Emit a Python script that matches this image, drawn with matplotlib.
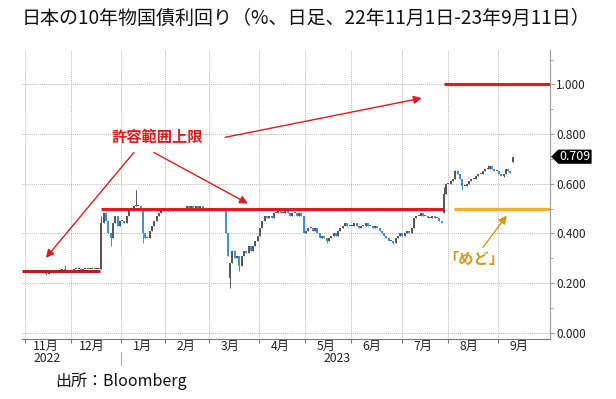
import numpy as np
import matplotlib
matplotlib.use("Agg")
import matplotlib.pyplot as plt
import matplotlib.transforms as mtransforms
from matplotlib.patches import Polygon
from matplotlib.ticker import MultipleLocator, FormatStrFormatter

plt.rcParams['font.family'] = ['Noto Sans CJK JP', 'DejaVu Sans']

# === DATA: JGB 10y daily close (%), trading days per month ===
month_labels = ['11月', '12月', '1月', '2月', '3月', '4月', '5月', '6月', '7月', '8月', '9月']
month_days = [20, 22, 19, 19, 22, 20, 20, 22, 20, 22, 7]

yld_nov = [0.250, 0.245, 0.250, 0.245, 0.245, 0.245, 0.245, 0.240, 0.240, 0.235,
           0.240, 0.240, 0.245, 0.245, 0.245, 0.250, 0.255, 0.250, 0.250, 0.250]
yld_dec = [0.250, 0.255, 0.255, 0.255, 0.250, 0.255, 0.255, 0.255, 0.255, 0.255,
           0.255, 0.255, 0.255, 0.440, 0.480, 0.450, 0.400, 0.380, 0.440, 0.470,
           0.430, 0.450]
yld_jan = [0.450, 0.440, 0.470, 0.500, 0.500, 0.510, 0.510, 0.510, 0.500, 0.400,
           0.380, 0.380, 0.410, 0.430, 0.450, 0.470, 0.480, 0.490, 0.490]
yld_feb = [0.490, 0.500, 0.490, 0.500, 0.500, 0.500, 0.500, 0.500, 0.500, 0.510,
           0.500, 0.510, 0.500, 0.510, 0.500, 0.510, 0.500, 0.500, 0.500]
yld_mar = [0.500, 0.500, 0.500, 0.500, 0.500, 0.500, 0.500, 0.400, 0.310, 0.280,
           0.330, 0.300, 0.310, 0.270, 0.310, 0.330, 0.320, 0.350, 0.330, 0.350,
           0.370, 0.390]
yld_apr = [0.420, 0.450, 0.470, 0.460, 0.470, 0.460, 0.480, 0.480, 0.490, 0.480,
           0.480, 0.490, 0.480, 0.470, 0.480, 0.480, 0.470, 0.480, 0.470, 0.400]
yld_may = [0.410, 0.420, 0.420, 0.410, 0.420, 0.400, 0.380, 0.390, 0.380, 0.370,
           0.380, 0.390, 0.400, 0.390, 0.410, 0.420, 0.430, 0.440, 0.430, 0.430]
yld_jun = [0.430, 0.440, 0.430, 0.420, 0.430, 0.430, 0.440, 0.430, 0.430, 0.420,
           0.430, 0.420, 0.410, 0.400, 0.390, 0.380, 0.370, 0.370, 0.360, 0.380,
           0.390, 0.400]
yld_jul = [0.390, 0.400, 0.410, 0.400, 0.420, 0.460, 0.470, 0.470, 0.480, 0.470,
           0.470, 0.460, 0.460, 0.470, 0.460, 0.460, 0.450, 0.440, 0.560, 0.600]
yld_aug = [0.600, 0.610, 0.620, 0.650, 0.640, 0.620, 0.590, 0.590, 0.600, 0.610,
           0.620, 0.620, 0.630, 0.640, 0.640, 0.650, 0.660, 0.660, 0.670, 0.660,
           0.650, 0.650]
yld_sep = [0.640, 0.630, 0.640, 0.660, 0.650, 0.645, 0.709]

# opens that gap away from the previous close, and intraday extremes
gap_idx = [89, 182, 212]
gap_open = [0.220, 0.480, 0.688]
hi_idx = [17, 33, 48, 182, 187, 201]
hi_val = [0.272, 0.470, 0.575, 0.588, 0.655, 0.676]
lo_idx = [9, 37, 51, 89, 93, 131, 160, 190, 208]
lo_val = [0.232, 0.350, 0.360, 0.180, 0.250, 0.360, 0.355, 0.575, 0.627]

# policy lines: (start index, end index, level)
cap_025 = (-1.6, 32.5, 0.25)
cap_050 = (33.0, 182.0, 0.50)
cap_100 = (182.0, 228.2, 1.00)
mado_050 = (186.5, 228.2, 0.50)
last_value = 0.709

TITLE = "日本の10年物国債利回り（%、日足、22年11月1日-23年9月11日）"
SOURCE = "出所：Bloomberg"

# === BUILD OHLC ===
close = np.array(yld_nov + yld_dec + yld_jan + yld_feb + yld_mar + yld_apr +
                 yld_may + yld_jun + yld_jul + yld_aug + yld_sep)
n = len(close)
x = np.arange(n)
opn = np.concatenate([[close[0]], close[:-1]])
for i, v in zip(gap_idx, gap_open):
    opn[i] = v
hi = np.maximum(opn, close)
lo = np.minimum(opn, close)
for i, v in zip(hi_idx, hi_val):
    hi[i] = max(hi[i], v)
for i, v in zip(lo_idx, lo_val):
    lo[i] = min(lo[i], v)

month_start = np.concatenate([[0], np.cumsum(month_days)[:-1]])

# === PLOT ===
W, H = 616, 399
fig = plt.figure(figsize=(W / 100, H / 100), dpi=100)
ax = fig.add_axes([22 / W, 1 - 339 / H, (550 - 22) / W, (339 - 50) / H])
ax.set_xlim(-1.6, 228.2)
ax.set_ylim(-0.026, 1.139)

GRAY_UP = '#555555'
BLUE_DN = '#3d8fdc'
RED = '#e31a1c'
DARK_RED = '#b81d22'
GOLD = '#f0b41e'
GOLD_TXT = '#d19a1a'

up = close >= opn
cols = np.where(up, GRAY_UP, BLUE_DN)
body_top = np.maximum(opn, close)
body_bot = np.minimum(opn, close)
flat = (body_top - body_bot) < 0.004
body_top = np.where(flat, body_bot + 0.004, body_top)
ax.vlines(x, lo, hi, colors=cols, lw=0.7, zorder=2)
ax.vlines(x, body_bot, body_top, colors=cols, lw=1.4, zorder=2)

# policy caps
for (x0, x1, lvl), c in [(cap_025, DARK_RED), (cap_050, RED), (cap_100, RED)]:
    ax.hlines(lvl, x0, x1, colors=c, lw=2.2, zorder=4)
ax.hlines(mado_050[2], mado_050[0], mado_050[1], colors=GOLD, lw=2.4, zorder=4)

# grid
for v in np.arange(0, 1.01, 0.2):
    ax.axhline(v, color='#b8b8b8', lw=0.7, ls=(0, (1, 1)), zorder=0)
for m in month_start:
    ax.axvline(m - 0.4, color='#b8b8b8', lw=0.7, ls=(0, (1, 1)), zorder=0)

# spines / axes
for s in ['left', 'top']:
    ax.spines[s].set_visible(False)
ax.spines['right'].set_color('#9a9a9a')
ax.spines['bottom'].set_color('#7a7a7a')
ax.spines['right'].set_linewidth(0.8)
ax.spines['bottom'].set_linewidth(0.8)

ax.yaxis.tick_right()
ax.yaxis.set_major_locator(MultipleLocator(0.2))
ax.yaxis.set_minor_locator(MultipleLocator(0.1))
ax.yaxis.set_major_formatter(FormatStrFormatter('%.3f'))
ax.tick_params(axis='y', which='major', length=3, width=0.8, colors='#9a9a9a',
               labelcolor='#222222', labelsize=8.5, pad=1.5)
ax.tick_params(axis='y', which='minor', length=2, width=0.6, colors='#9a9a9a')

ax.set_xticks(month_start - 0.4)
ax.set_xticklabels([])
ax.tick_params(axis='x', length=3, width=0.8, colors='#7a7a7a')

# month labels and years
blend = mtransforms.blended_transform_factory(ax.transData, fig.transFigure)
for m, lab in zip(month_start, month_labels):
    ax.text(m + 8.8, 1 - 346 / H, lab, transform=blend, ha='center', va='center',
            fontsize=8.8, color='#222222')
ax.text(month_start[0] + 9.5, 1 - 359 / H, '2022', transform=blend, ha='center',
        va='center', fontsize=8.8, color='#222222')
ax.text(135.5, 1 - 359 / H, '2023', transform=blend, ha='center',
        va='center', fontsize=8.8, color='#222222')
ax.plot([month_start[2] - 0.4] * 2, [1 - 352 / H, 1 - 365 / H], transform=blend,
        color='#b0b0b0', lw=0.8, clip_on=False)

# annotations
arrow_red = dict(arrowstyle='-|>', color=RED, lw=1.0, mutation_scale=12,
                 shrinkA=0, shrinkB=0)
ax.text(57.1, 0.787, '許容範囲上限', color=RED, fontsize=11, fontweight='bold',
        ha='center', va='center', zorder=6)
ax.annotate('', xy=(8.8, 0.301), xytext=(47.1, 0.726), arrowprops=arrow_red, zorder=6)
ax.annotate('', xy=(96.7, 0.520), xytext=(55.8, 0.726), arrowprops=arrow_red, zorder=6)
ax.annotate('', xy=(172.4, 0.945), xytext=(86.8, 0.787), arrowprops=arrow_red, zorder=6)

ax.text(195.0, 0.298, '「めど」', color=GOLD_TXT, fontsize=11, fontweight='bold',
        ha='center', va='center', zorder=6)
ax.annotate('', xy=(209.4, 0.472), xytext=(199.0, 0.343),
            arrowprops=dict(arrowstyle='-|>', color=GOLD_TXT, lw=1.0,
                            mutation_scale=12, shrinkA=0, shrinkB=0), zorder=6)

# last value tag: black box with a small point toward the axis
ytrans = mtransforms.blended_transform_factory(ax.transAxes, ax.transData)
h = 0.027
tag = Polygon([[1.003, last_value], [1.016, last_value + h], [1.078, last_value + h],
               [1.078, last_value - h], [1.016, last_value - h]],
              closed=True, transform=ytrans, fc='black', ec='black', lw=0.5,
              clip_on=False, zorder=7)
ax.add_patch(tag)
ax.text(1.047, last_value, f'{last_value:.3f}', transform=ytrans, color='white',
        fontsize=9, ha='center', va='center', zorder=8, clip_on=False)

fig.text(22 / W, 1 - 18 / H, TITLE, fontsize=13.7, ha='left', va='center', color='#111111')
fig.text(55 / W, 1 - 381 / H, SOURCE, fontsize=11.5, ha='left', va='center', color='#111111')

fig.savefig('out.png', dpi=100)
